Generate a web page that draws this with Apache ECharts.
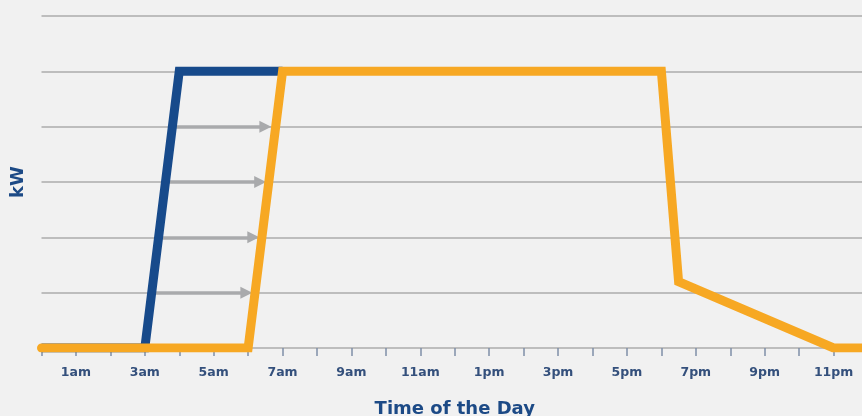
<!DOCTYPE html>
<html>
<head>
<meta charset="utf-8">
<script src="https://cdn.jsdelivr.net/npm/echarts@6/dist/echarts.min.js"></script>
<style>
  html, body { margin: 0; padding: 0; background: #f1f1f1; }
  #chart { width: 862px; height: 416px; }
</style>
</head>
<body>
<div id="chart"></div>
<script>
// hours of day (0 = midnight), labels shown on odd hours
const hourLabels = ['12am', '1am', '2am', '3am', '4am', '5am', '6am', '7am', '8am', '9am', '10am', '11am',
  '12pm', '1pm', '2pm', '3pm', '4pm', '5pm', '6pm', '7pm', '8pm', '9pm', '10pm', '11pm', '12am']

// [hour, kW level]
const originalLoad = [[0, 0], [3, 0], [4, 5], [7, 5]]
const shiftedLoad = [[0, 0], [6, 0], [7, 5], [18, 5], [18.5, 1.2], [23, 0], [24, 0]]

// grey shift arrows: level, start hour, end hour
const arrowLevels = [1, 2, 3, 4]
const arrowStart = [3.3, 3.5, 3.7, 3.9]
const arrowEnd = [5.95, 6.15, 6.35, 6.5]

const blue = '#174a8b'
const orange = '#f7a823'
const grey = '#a9aaac'

const chart = echarts.init(document.getElementById('chart'))

const arrowData = arrowLevels.map((lvl, i) => {
  return { coords: [[arrowStart[i], lvl], [arrowEnd[i], lvl]] }
})

chart.setOption({
  backgroundColor: '#f1f1f1',
  animation: false,
  grid: { left: 41.5, right: -6, top: 16, bottom: 68, outerBoundsMode: 'none', containLabel: false },
  xAxis: {
    type: 'value',
    min: 0,
    max: 24,
    interval: 1,
    name: 'Time of the Day',
    nameLocation: 'middle',
    nameGap: 52,
    nameTextStyle: { color: '#1c4a86', fontSize: 18, fontWeight: 'bold', fontFamily: 'DejaVu Sans' },
    axisLine: { lineStyle: { color: '#bdbdbd', width: 2 } },
    axisTick: { show: true, length: 8, lineStyle: { color: '#7f8fa8', width: 1.5 } },
    splitLine: { show: false },
    axisLabel: {
      margin: 18,
      color: '#34507c',
      fontSize: 12.5,
      fontWeight: 'bold',
      fontFamily: 'DejaVu Sans',
      formatter: v => (v % 2 === 1 ? hourLabels[v] : '')
    }
  },
  yAxis: {
    type: 'value',
    min: 0,
    max: 6,
    interval: 1,
    name: 'kW',
    nameLocation: 'middle',
    nameGap: 14,
    nameTextStyle: { color: '#1c4a86', fontSize: 18, fontWeight: 'bold', fontFamily: 'DejaVu Sans' },
    axisLine: { show: false },
    axisTick: { show: false },
    axisLabel: { show: false },
    splitLine: { lineStyle: { color: '#bdbdbd', width: 2 } }
  },
  series: [
    {
      type: 'lines',
      coordinateSystem: 'cartesian2d',
      data: arrowData,
      symbol: ['none', 'triangle'],
      symbolSize: 12,
      lineStyle: { color: grey, width: 3.5, opacity: 1 },
      itemStyle: { color: grey },
      z: 2
    },
    {
      type: 'line',
      data: originalLoad,
      symbol: 'none',
      lineStyle: { color: blue, width: 9, cap: 'butt', join: 'miter' },
      z: 3
    },
    {
      type: 'line',
      data: shiftedLoad,
      symbol: 'none',
      lineStyle: { color: orange, width: 9, cap: 'round', join: 'miter' },
      z: 4
    }
  ]
})
</script>
</body>
</html>
